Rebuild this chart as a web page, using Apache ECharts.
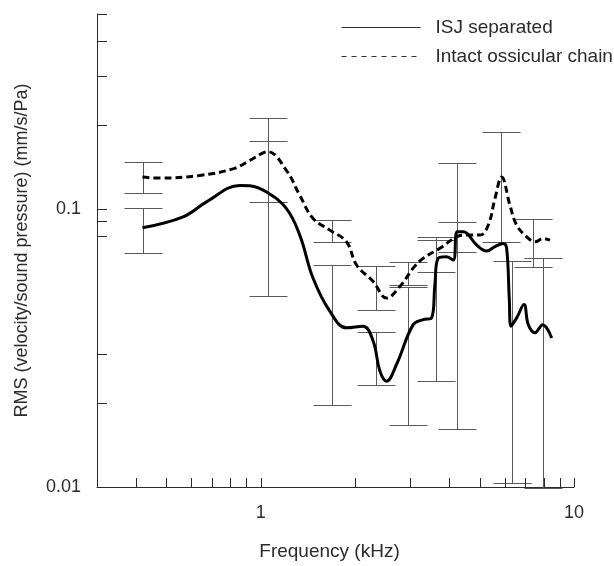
<!DOCTYPE html>
<html>
<head>
<meta charset="utf-8">
<script src="https://cdn.jsdelivr.net/npm/echarts@6/dist/echarts.min.js"></script>
<style>
  html, body { margin: 0; padding: 0; background: #fff; }
  #chart { width: 614px; height: 566px; }
</style>
</head>
<body>
<div id="chart"></div>
<script>
// frequency (kHz), velocity/pressure (mm/s/Pa)
var isjFreq = [0.419, 0.565, 0.671, 0.857, 0.922, 1.043, 1.208, 1.332, 1.469, 1.661, 1.878, 2.122, 2.285, 2.40, 2.521, 2.714, 3.066, 3.301, 3.511, 3.596, 3.685, 3.921, 4.116, 4.239, 4.43, 4.888, 5.262, 5.592, 5.944, 6.095, 6.213, 6.291, 6.561, 6.924, 7.145, 7.506, 7.943, 8.488];
var isjValue = [0.0853, 0.0934, 0.1057, 0.1211, 0.1207, 0.1147, 0.100, 0.0803, 0.0562, 0.0428, 0.0373, 0.0378, 0.0334, 0.0261, 0.0240, 0.0276, 0.0383, 0.0399, 0.0405, 0.0532, 0.0663, 0.0672, 0.0653, 0.0826, 0.0826, 0.0740, 0.0704, 0.0730, 0.0750, 0.0720, 0.0477, 0.0378, 0.0405, 0.0452, 0.0383, 0.0358, 0.0383, 0.0343];

var intactFreq = [0.419, 0.476, 0.638, 0.814, 0.922, 1.017, 1.055, 1.208, 1.332, 1.469, 1.661, 1.878, 2.022, 2.285, 2.521, 2.781, 3.066, 3.301, 3.731, 4.22, 4.542, 5.008, 5.324, 5.592, 5.875, 6.245, 6.561, 7.063, 7.506, 7.978, 8.381];
var intactValue = [0.1298, 0.1287, 0.1315, 0.1389, 0.1488, 0.1585, 0.160, 0.1370, 0.1116, 0.0921, 0.0837, 0.0760, 0.0627, 0.0547, 0.0477, 0.0525, 0.0611, 0.0663, 0.0720, 0.0792, 0.0803, 0.0803, 0.0872, 0.1086, 0.1298, 0.1027, 0.0872, 0.0792, 0.0760, 0.0781, 0.0770];

// error bars: [frequency, low, high]
var isjErrors = [
  [0.421, 0.0695, 0.1006],
  [1.055, 0.0486, 0.1746],
  [1.69, 0.0197, 0.0627],
  [2.33, 0.0233, 0.036],
  [2.96, 0.01675, 0.0522],
  [3.62, 0.0241, 0.077],
  [4.24, 0.0161, 0.146],
  [6.35, 0.0103, 0.065],
  [7.98, 0.0099, 0.0667]
];
var intactErrors = [
  [0.421, 0.1138, 0.1468],
  [1.055, 0.1057, 0.2113],
  [1.69, 0.076, 0.0908],
  [2.33, 0.0431, 0.0624],
  [2.96, 0.053, 0.0642],
  [3.62, 0.059, 0.0792],
  [4.24, 0.070, 0.0896],
  [5.83, 0.076, 0.188],
  [7.41, 0.0619, 0.0916]
];

// axis ticks and labels
var xMin = 0.3, xMax = 10;
var yMin = 0.01, yMax = 0.5;
var xTicks = [0.4, 0.5, 0.6, 0.7, 0.8, 0.9, 1, 2, 3, 4, 5, 6, 7, 8, 9, 10];
var yTicks = [0.02, 0.03, 0.08, 0.09, 0.1, 0.2, 0.3, 0.4, 0.5];
var xLabels = [1, 10];
var yLabels = [0.01, 0.1];

var chart = echarts.init(document.getElementById('chart'));
var font = '"Liberation Sans", Arial, sans-serif';
var textColor = '#2b2b2b';

function pairs(xs, ys) {
  return xs.map(function (x, i) { return [x, ys[i]]; });
}

function isIn(list, v) {
  return list.some(function (t) { return Math.abs(t - v) / t < 1e-6; });
}

// error bar: vertical line plus two caps
function renderError(params, api) {
  var f = api.value(0);
  var lo = api.coord([f, api.value(1)]);
  var hi = api.coord([f, api.value(2)]);
  var x = Math.round(lo[0]) + 0.5;
  var y1 = Math.round(lo[1]) + 0.5;
  var y2 = Math.round(hi[1]) + 0.5;
  var half = 19;
  var st = { stroke: '#5a5a5a', lineWidth: 1 };
  return {
    type: 'group',
    children: [
      { type: 'line', shape: { x1: x, y1: y1, x2: x, y2: y2 }, style: st },
      { type: 'line', shape: { x1: x - half, y1: y1, x2: x + half, y2: y1 }, style: st },
      { type: 'line', shape: { x1: x - half, y1: y2, x2: x + half, y2: y2 }, style: st }
    ]
  };
}

// inward tick marks on the x axis
function renderXTick(params, api) {
  var p = api.coord([api.value(0), yMin]);
  var x = Math.round(p[0]) + 0.5;
  return { type: 'line', shape: { x1: x, y1: p[1], x2: x, y2: p[1] - 9 }, style: { stroke: '#2b2b2b', lineWidth: 1 } };
}

// inward tick marks on the y axis
function renderYTick(params, api) {
  var p = api.coord([xMin, api.value(1)]);
  var y = Math.round(p[1]) + 0.5;
  return { type: 'line', shape: { x1: p[0], y1: y, x2: p[0] + 10, y2: y }, style: { stroke: '#2b2b2b', lineWidth: 1 } };
}

var hiddenSymbol = { color: 'rgba(0,0,0,0)', borderWidth: 0 };

var option = {
  backgroundColor: '#fff',
  animation: false,
  textStyle: { fontFamily: font },
  grid: { left: 97, right: 40, top: 14, bottom: 76 },
  legend: {
    orient: 'vertical',
    left: 341,
    top: 18,
    padding: 0,
    itemWidth: 79,
    itemHeight: 14,
    itemGap: 10,
    textStyle: { fontFamily: font, fontSize: 19, color: textColor, padding: [0, 0, 0, 10] },
    data: [
      { name: 'ISJ separated', itemStyle: hiddenSymbol, lineStyle: { width: 1, color: '#333' } },
      { name: 'Intact ossicular chain', itemStyle: hiddenSymbol, lineStyle: { width: 1, color: '#333', type: [5, 5] } }
    ]
  },
  xAxis: {
    type: 'log',
    logBase: 10,
    min: xMin,
    max: xMax,
    name: 'Frequency (kHz)',
    nameLocation: 'middle',
    nameGap: 55,
    nameTextStyle: { fontFamily: font, fontSize: 19, color: textColor, padding: [0, 12, 0, 0] },
    axisLine: { lineStyle: { color: '#2b2b2b', width: 1 } },
    axisTick: { show: false },
    splitLine: { show: false },
    axisLabel: {
      margin: 17,
      fontFamily: font,
      fontSize: 18,
      color: textColor,
      formatter: function (v) { return isIn(xLabels, v) ? String(Math.round(v)) : ''; }
    }
  },
  yAxis: {
    type: 'log',
    logBase: 10,
    min: yMin,
    max: yMax,
    name: 'RMS (velocity/sound pressure) (mm/s/Pa)',
    nameLocation: 'middle',
    nameGap: 66,
    nameRotate: 90,
    nameTextStyle: { fontFamily: font, fontSize: 18, color: textColor },
    axisLine: { lineStyle: { color: '#2b2b2b', width: 1 } },
    axisTick: { show: false },
    splitLine: { show: false },
    axisLabel: {
      margin: 16,
      fontFamily: font,
      fontSize: 18,
      color: textColor,
      formatter: function (v) { return isIn(yLabels, v) ? String(+v.toPrecision(3)) : ''; }
    }
  },
  series: [
    {
      name: 'ISJ errors',
      type: 'custom',
      renderItem: renderError,
      data: isjErrors,
      z: 1,
      silent: true
    },
    {
      name: 'Intact errors',
      type: 'custom',
      renderItem: renderError,
      data: intactErrors,
      z: 1,
      silent: true
    },
    {
      name: 'x ticks',
      type: 'custom',
      renderItem: renderXTick,
      data: xTicks.map(function (v) { return [v]; }),
      z: 1,
      silent: true
    },
    {
      name: 'y ticks',
      type: 'custom',
      renderItem: renderYTick,
      data: yTicks.map(function (v) { return [xMin, v]; }),
      encode: { x: 0, y: 1 },
      z: 1,
      silent: true
    },
    {
      name: 'ISJ separated',
      type: 'line',
      data: pairs(isjFreq, isjValue),
      symbol: 'none',
      smooth: 0.4,
      lineStyle: { color: '#000', width: 3 },
      itemStyle: { color: '#000' },
      z: 3
    },
    {
      name: 'Intact ossicular chain',
      type: 'line',
      data: pairs(intactFreq, intactValue),
      symbol: 'none',
      smooth: 0.4,
      lineStyle: { color: '#000', width: 3, type: [7, 4] },
      itemStyle: { color: '#000' },
      z: 3
    }
  ]
};

chart.setOption(option);
</script>
</body>
</html>
